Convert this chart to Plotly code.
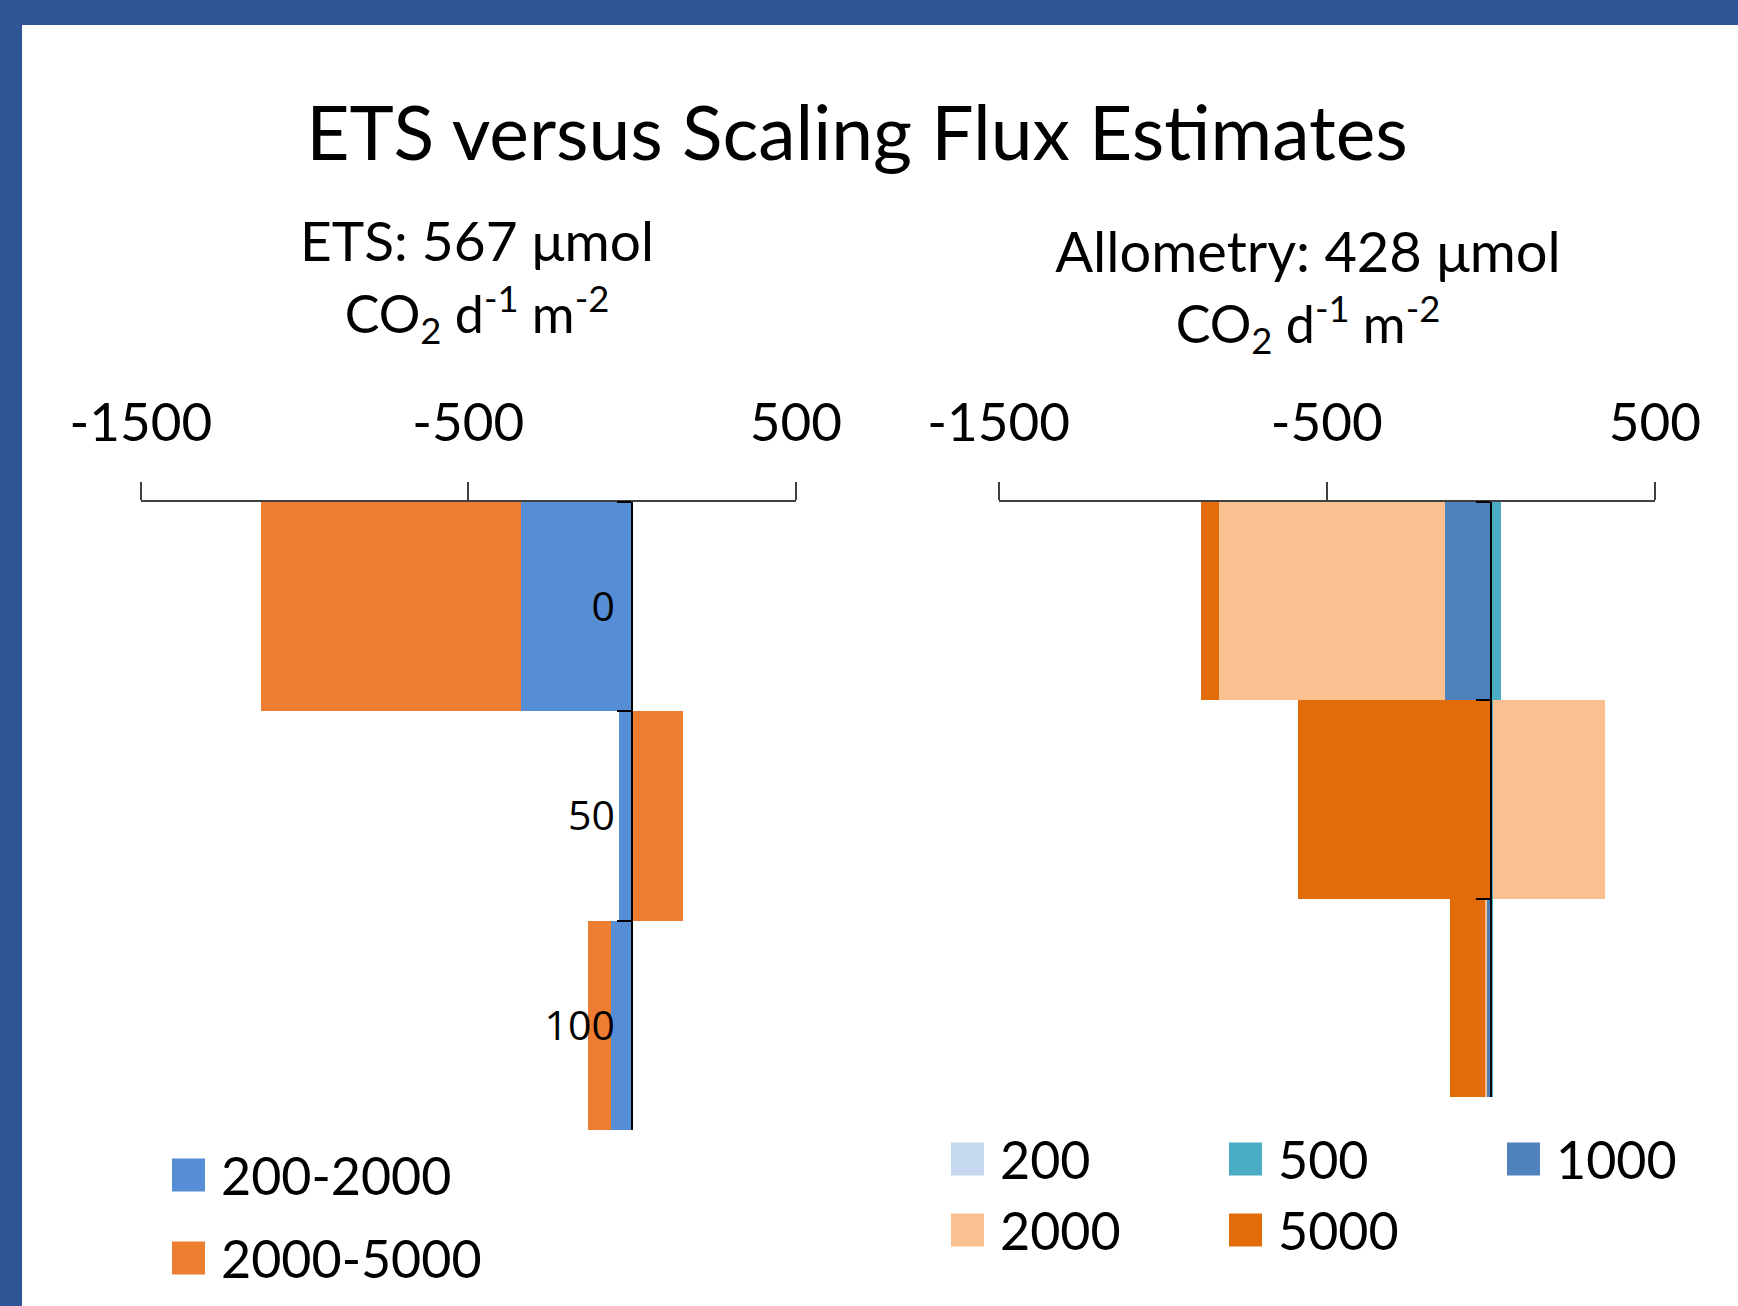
import plotly.graph_objects as go

# Depth bins (category axis, top to bottom)
depths = ["0", "50", "100"]

# ETS-based flux by size class
ets_names = ["200-2000", "2000-5000"]
ets_200_2000 = [-340, -42, -66]
ets_2000_5000 = [-795, 156, -70]

# Allometry-based flux by size class
allo_names = ["200", "500", "1000", "2000", "5000"]
allo_200 = [4, 2, -3]
allo_500 = [26, 4, 5]
allo_1000 = [-141, -3, -10]
allo_2000 = [-689, 340, -5]
allo_5000 = [-55, -585, -106]

x_ticks = [-1500, -500, 500]
x_tick_labels = ["-1500", "-500", "500"]
x_range = [-1500, 500]

title_text = "ETS versus Scaling Flux Estimates"
ets_title = ["ETS: 567 μmol", "CO<sub>2</sub> d<sup>-1</sup> m<sup>-2</sup>"]
allo_title = ["Allometry: 428 μmol", "CO<sub>2</sub> d<sup>-1</sup> m<sup>-2</sup>"]

ets_colors = ["#558ED5", "#ED7D31"]
allo_colors = ["#C6D9F0", "#4BACC6", "#4F81BD", "#FAC090", "#E36C0A"]

W, H = 1738, 1306
FONT = "Lato"


def fx(px):
    return px / W


def fy(py):
    return 1 - py / H


left_x = [fx(140.8), fx(795.8)]
right_x = [fx(998.7), fx(1654.8)]
left_y = [fy(1130), fy(502)]
right_y = [fy(1097), fy(502)]


def zero_pos(dom):
    return dom[0] + (0 - x_range[0]) / (x_range[1] - x_range[0]) * (dom[1] - dom[0])


fig = go.Figure()

for name, vals, col in zip(ets_names, [ets_200_2000, ets_2000_5000], ets_colors):
    fig.add_trace(go.Bar(y=depths, x=vals, orientation="h", name=name,
                         marker=dict(color=col, line=dict(width=0)),
                         xaxis="x", yaxis="y", showlegend=False))

allo_series = [allo_200, allo_500, allo_1000, allo_2000, allo_5000]
for name, vals, col in zip(allo_names, allo_series, allo_colors):
    fig.add_trace(go.Bar(y=depths, x=vals, orientation="h", name=name,
                         marker=dict(color=col, line=dict(width=0)),
                         xaxis="x2", yaxis="y2", showlegend=False))


def xaxis_cfg(dom, anchor):
    return dict(domain=dom, range=x_range, anchor=anchor, side="top",
                tickmode="array", tickvals=x_ticks, ticktext=x_tick_labels,
                ticks="outside", ticklen=18, tickwidth=1.5, tickcolor="#404040",
                showline=True, linecolor="#404040", linewidth=1.5,
                showgrid=False, zeroline=False, ticklabelstandoff=20,
                automargin=False,
                tickfont=dict(family=FONT, size=53, color="black"), fixedrange=True)


def yaxis_cfg(dom, xdom, labels):
    return dict(domain=dom, type="category", categoryorder="array",
                categoryarray=depths, range=[2.5, -0.5],
                anchor="free", position=zero_pos(xdom),
                showline=True, linecolor="black", linewidth=2,
                ticks="outside", tickson="boundaries", ticklen=14,
                tickwidth=2, tickcolor="black", showticklabels=labels,
                ticklabelstandoff=8, automargin=False,
                tickfont=dict(family="Open Sans", size=41, color="black"),
                showgrid=False, zeroline=False, fixedrange=True)


shapes = [
    # frame bands
    dict(type="rect", xref="paper", yref="paper", x0=0, x1=1, y0=fy(25), y1=1,
         fillcolor="#2F5597", line=dict(width=0)),
    dict(type="rect", xref="paper", yref="paper", x0=0, x1=fx(22), y0=0, y1=1,
         fillcolor="#2F5597", line=dict(width=0)),
]

annotations = []


def add_text(text, x, y, size, xanchor="center", box_w=560, box_h=90):
    annotations.append(dict(text=text, x=x, y=y, xref="paper", yref="paper",
                            xanchor=xanchor, yanchor="middle", showarrow=False,
                            width=box_w, height=box_h,
                            align="left" if xanchor == "left" else "center",
                            valign="middle",
                            font=dict(family=FONT, size=size, color="black")))


ets_sizes = [55, 52]
allo_sizes = [56, 52]
for i, line in enumerate(ets_title):
    add_text(line, fx(477), fy([240, 314][i]), ets_sizes[i])
for i, line in enumerate(allo_title):
    add_text(line, fx(1308), fy([250, 324][i]), allo_sizes[i])

# Legend keys: coloured squares with labels
SQ = 33


def add_key(name, col, x_sq, y_mid):
    shapes.append(dict(type="rect", xref="paper", yref="paper",
                       x0=fx(x_sq), x1=fx(x_sq + SQ),
                       y0=fy(y_mid + SQ / 2), y1=fy(y_mid - SQ / 2),
                       fillcolor=col, line=dict(width=0)))
    add_text(name, fx(x_sq + 47), fy(y_mid), 52, xanchor="left", box_w=260, box_h=70)


for i, (name, col) in enumerate(zip(ets_names, ets_colors)):
    add_key(name, col, 172, [1175, 1258][i])

allo_cols = [951, 1229, 1507]
allo_rows = [1159, 1230]
for i, (name, col) in enumerate(zip(allo_names, allo_colors)):
    add_key(name, col, allo_cols[i % 3], allo_rows[i // 3])

fig.update_layout(
    template="none",
    width=W, height=H,
    margin=dict(l=0, r=0, t=0, b=0, pad=0, autoexpand=False),
    paper_bgcolor="white", plot_bgcolor="rgba(0,0,0,0)",
    title=dict(text=title_text, x=fx(857), xanchor="center", xref="paper",
               y=fy(134), yanchor="middle", yref="paper",
               font=dict(family=FONT, size=75, color="black")),
    barmode="relative", bargap=0,
    showlegend=False,
    xaxis=xaxis_cfg(left_x, "y"),
    yaxis=yaxis_cfg(left_y, left_x, True),
    xaxis2=xaxis_cfg(right_x, "y2"),
    yaxis2=yaxis_cfg(right_y, right_x, False),
    shapes=shapes,
    annotations=annotations,
)

fig.write_html("out.html")
